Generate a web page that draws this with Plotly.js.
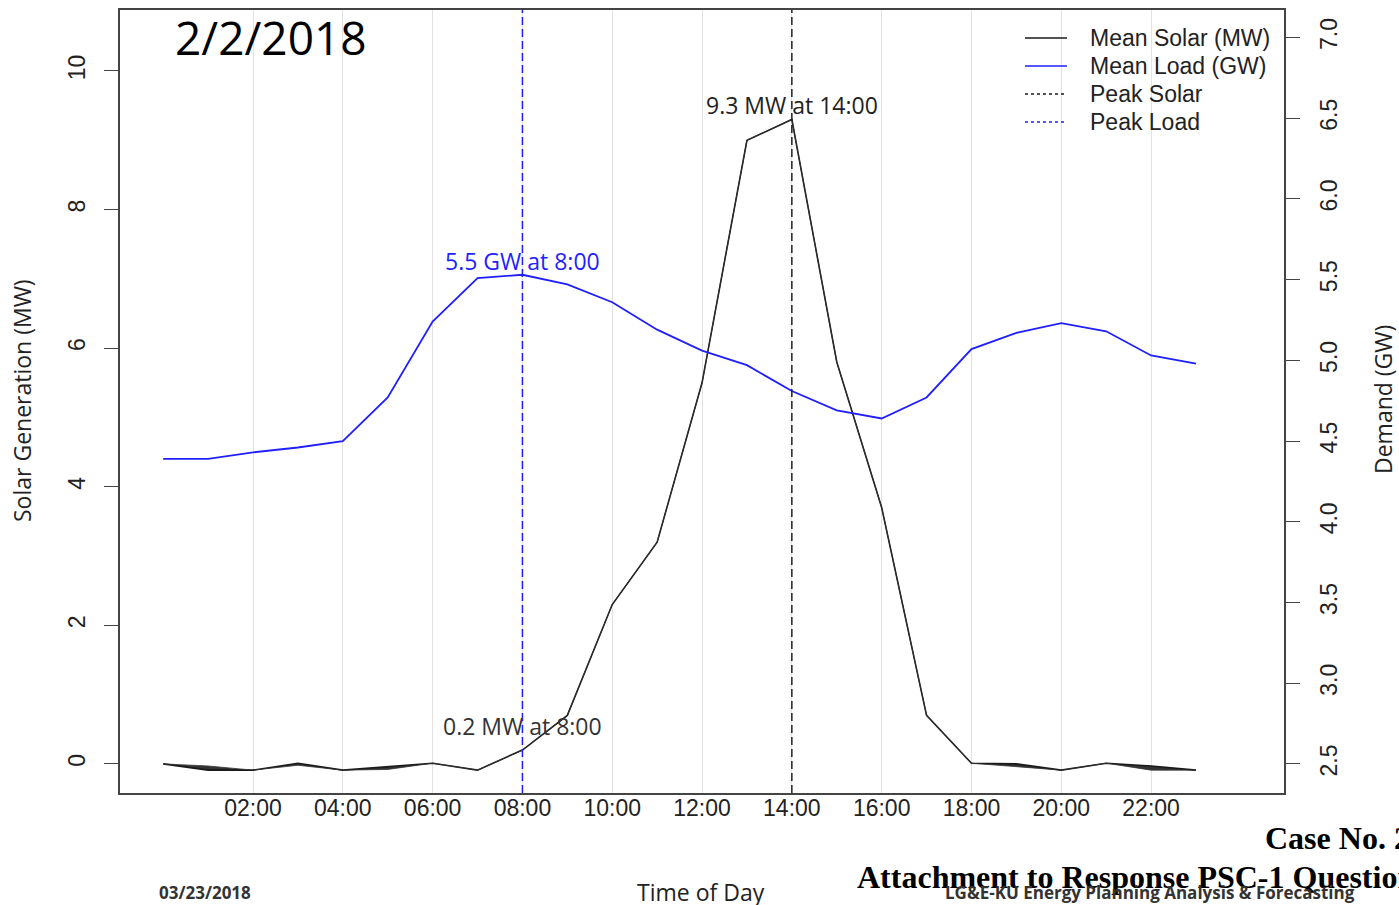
<!DOCTYPE html>
<html><head><meta charset="utf-8">
<script src="https://cdn.plot.ly/plotly-3.0.1.min.js"></script>
<style>html,body{margin:0;padding:0;background:#fff}#chart{width:1399px;height:905px}</style>
</head><body><div id="chart"></div>
<script>
// ---- data ----
const hours = [0,1,2,3,4,5,6,7,8,9,10,11,12,13,14,15,16,17,18,19,20,21,22,23];
const solarMW = [0, -0.09, -0.09, 0.01, -0.09, -0.04, 0.01, -0.09, 0.2, 0.7, 2.3, 3.2, 5.5, 9.0, 9.3, 5.8, 3.7, 0.7, 0.01, 0.0, -0.09, 0.01, -0.03, -0.09];
const solarBandEdge = [0, -0.03, -0.09, -0.02, -0.09, -0.08, 0.01, -0.09, 0.2, 0.7, 2.3, 3.2, 5.5, 9.0, 9.3, 5.8, 3.7, 0.7, 0.01, -0.04, -0.09, 0.01, -0.09, -0.09];
const loadGW = [4.39, 4.39, 4.43, 4.46, 4.50, 4.77, 5.24, 5.51, 5.53, 5.47, 5.36, 5.19, 5.06, 4.97, 4.81, 4.69, 4.64, 4.77, 5.07, 5.17, 5.23, 5.18, 5.03, 4.98];
const tickHours = [2,4,6,8,10,12,14,16,18,20,22];
const tickLabels = ["02:00","04:00","06:00","08:00","10:00","12:00","14:00","16:00","18:00","20:00","22:00"];
const leftTicks = [0,2,4,6,8,10];
const rightTicks = [2.5,3.0,3.5,4.0,4.5,5.0,5.5,6.0,6.5,7.0];
const rightTickLabels = ["2.5","3.0","3.5","4.0","4.5","5.0","5.5","6.0","6.5","7.0"];
const peakSolarHour = 14, peakSolarVal = 9.3;
const peakLoadHour = 8, peakLoadVal = 5.5;
const solarAtLoadPeak = 0.2;
const chartDate = "2/2/2018";
const legendNames = ["Mean Solar (MW)", "Mean Load (GW)", "Peak Solar", "Peak Load"];

// ---- helpers (pixel -> paper) ----
const L = 120, R = 1284, T = 10, B = 793;
const px = x => (x - L) / (R - L);
const py = y => (B - y) / (B - T);

const FONT = "Open Sans, DejaVu Sans, sans-serif";
const SANS = "Liberation Sans, Arial, sans-serif";
const SERIF = "Liberation Serif, Times New Roman, serif";
const BLUE = "#1f1fff";
const BLACK = "#1a1a1a";

const traces = [
  {x: hours, y: solarMW, type: 'scatter', mode: 'lines', name: legendNames[0],
   line: {color: BLACK, width: 1.6}, showlegend: false},
  {x: hours, y: solarBandEdge, type: 'scatter', mode: 'lines', line: {width: 0.8, color: '#333'},
   fill: 'tonexty', fillcolor: '#333', showlegend: false, hoverinfo: 'skip'},
  {x: hours, y: loadGW, type: 'scatter', mode: 'lines', name: legendNames[1], yaxis: 'y2',
   line: {color: BLUE, width: 1.8}, showlegend: false}
];

// manual legend (matches reference spacing)
const legendStyles = [
  {color: BLACK, dash: 'solid', width: 1.6},
  {color: BLUE, dash: 'solid', width: 1.6},
  {color: BLACK, dash: '3px,3px', width: 1.6},
  {color: BLUE, dash: '3px,3px', width: 1.6}
];
const legendShapes = legendStyles.map((s, i) => ({
  type: 'line', xref: 'paper', yref: 'paper',
  x0: px(1025), x1: px(1067), y0: py(38 + 28 * i), y1: py(38 + 28 * i),
  line: {color: s.color, width: s.width, dash: s.dash}
}));
const legendTexts = legendNames.map((n, i) => ({
  x: px(1088), y: py(38 + 28 * i), xref: 'paper', yref: 'paper', xanchor: 'left', yanchor: 'middle',
  text: n, showarrow: false, font: {family: SANS, size: 23, color: '#222'}
}));

const layout = {
  width: 1399, height: 905,
  margin: {l: L, r: 1399 - R, t: T, b: 905 - B},
  paper_bgcolor: '#fff', plot_bgcolor: '#fff',
  font: {family: FONT, color: '#222', size: 22},
  showlegend: false,
  xaxis: {range: [-0.962, 24.96], tickvals: tickHours, ticktext: tickLabels,
          showgrid: true, gridcolor: '#e2e2e2', gridwidth: 1, zeroline: false,
          showline: true, linecolor: '#444', linewidth: 1.6, mirror: true,
          ticks: '', ticklabelstandoff: -6,
          tickfont: {family: SANS, size: 23, color: '#222'}},
  yaxis: {range: [-0.42, 10.88], tickvals: leftTicks, ticktext: leftTicks.map(String),
          showgrid: false, zeroline: false, showline: true, linecolor: '#444', linewidth: 1.6,
          ticks: 'outside', ticklen: 14, tickcolor: '#444', tickangle: -90, ticklabelstandoff: 10,
          tickfont: {family: SANS, size: 23, color: '#222'}},
  yaxis2: {range: [2.32, 7.17], overlaying: 'y', side: 'right', tickvals: rightTicks, ticktext: rightTickLabels,
           showgrid: false, zeroline: false, showline: true, linecolor: '#444', linewidth: 1.6,
           ticks: 'outside', ticklen: 14, tickcolor: '#444', tickangle: -90, ticklabelstandoff: 10,
           tickfont: {family: SANS, size: 23, color: '#222'}},
  shapes: [
    {type: 'line', xref: 'x', yref: 'paper', x0: peakSolarHour, x1: peakSolarHour, y0: 0, y1: 1,
     line: {color: '#222', width: 1.5, dash: '8px,4px'}},
    {type: 'line', xref: 'x', yref: 'paper', x0: peakLoadHour, x1: peakLoadHour, y0: 0, y1: 1,
     line: {color: BLUE, width: 1.5, dash: '8px,4px'}}
  ].concat(legendShapes),
  annotations: [
    {x: peakSolarHour, y: peakSolarVal, xref: 'x', yref: 'y', text: peakSolarVal + ' MW at 14:00',
     showarrow: false, xanchor: 'center', yanchor: 'middle', yshift: 14, font: {family: FONT, size: 23, color: '#222'}},
    {x: peakLoadHour, y: peakLoadVal, xref: 'x', yref: 'y2', text: peakLoadVal + ' GW at 8:00',
     showarrow: false, xanchor: 'center', yanchor: 'middle', yshift: 19, font: {family: FONT, size: 23, color: BLUE}},
    {x: peakLoadHour, y: solarAtLoadPeak, xref: 'x', yref: 'y', text: solarAtLoadPeak + ' MW at 8:00',
     showarrow: false, xanchor: 'center', yanchor: 'middle', yshift: 24, font: {family: FONT, size: 23, color: '#333'}},
    {x: px(271), y: py(37), xref: 'paper', yref: 'paper', xanchor: 'center', yanchor: 'middle', text: chartDate, showarrow: false,
     font: {family: FONT, size: 46, color: '#000'}},
    {x: px(22), y: py(400), xref: 'paper', yref: 'paper', xanchor: 'center', yanchor: 'middle', text: 'Solar Generation (MW)', textangle: -90,
     showarrow: false, font: {family: FONT, size: 23, color: '#222'}},
    {x: px(1383), y: py(400), xref: 'paper', yref: 'paper', xanchor: 'center', yanchor: 'middle', text: 'Demand (GW)', textangle: -90,
     showarrow: false, font: {family: FONT, size: 23, color: '#222'}},
    {x: px(701), y: py(892), xref: 'paper', yref: 'paper', xanchor: 'center', yanchor: 'middle', text: 'Time of Day',
     showarrow: false, font: {family: FONT, size: 23, color: '#222'}},
    {x: px(205), y: py(893), xref: 'paper', yref: 'paper', xanchor: 'center', yanchor: 'middle', text: '<b>03/23/2018</b>',
     showarrow: false, font: {family: FONT, size: 17, color: '#333'}},
    {x: px(1263), y: py(838), xref: 'paper', yref: 'paper', xanchor: 'left', yanchor: 'middle', text: '<b>Case No. 2</b>',
     showarrow: false, font: {family: SERIF, size: 32, color: '#000'}},
    {x: px(855), y: py(877), xref: 'paper', yref: 'paper', xanchor: 'left', yanchor: 'middle', text: '<b>Attachment to Response PSC-1 Question</b>',
     showarrow: false, font: {family: SERIF, size: 32, color: '#000'}},
    {x: px(1150), y: py(893), xref: 'paper', yref: 'paper', xanchor: 'center', yanchor: 'middle', text: '<b>LG&amp;E-KU Energy Planning Analysis &amp; Forecasting</b>',
     showarrow: false, font: {family: FONT, size: 17, color: '#333'}}
  ].concat(legendTexts)
};

Plotly.newPlot('chart', traces, layout, {displayModeBar: false, staticPlot: true});
</script>
</body></html>
